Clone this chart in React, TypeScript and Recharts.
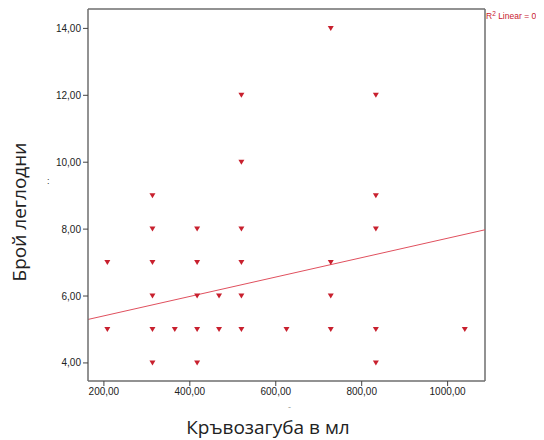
import React from "react";
import {
  ScatterChart,
  Scatter,
  XAxis,
  YAxis,
  ReferenceLine,
} from "recharts";

// x values (the points sit slightly right of the round ticks)
const bloodLoss = [208, 208, 313, 313, 313, 313, 313, 313, 365, 417, 417, 417, 417, 417, 468, 468, 520, 520, 520, 520, 520, 520, 625, 728, 728, 728, 728, 833, 833, 833, 833, 833, 1040];
const bedDays = [7, 5, 9, 8, 7, 6, 5, 4, 5, 8, 7, 6, 5, 4, 6, 5, 12, 10, 8, 7, 6, 5, 5, 14, 7, 6, 5, 12, 9, 8, 5, 4, 5];

const xTicks = [200, 400, 600, 800, 1000];
const yTicks = [4, 6, 8, 10, 12, 14];
const xDomain = [163, 1087];
const yDomain = [3.46, 14.58];
const fitX = [163, 1087];
const fitY = [5.3, 7.98];

const xTitle = "Кръвозагуба в мл";
const yTitle = "Брой леглодни";
const r2Label = "Linear = 0,";

const points = bloodLoss.map((x, i) => ({ x, y: bedDays[i] }));

const fmt = (v: number) => v.toFixed(2).replace(".", ",");

const RED = "#c8202e";
const FRAME = "#6e6e6e";

const Marker = (props: any) => {
  const { cx, cy } = props;
  if (cx == null || cy == null) return null;
  return (
    <path
      d={`M${cx - 3},${cy - 2.5} L${cx + 3},${cy - 2.5} L${cx},${cy + 2.5} Z`}
      fill={RED}
    />
  );
};

export default function App() {
  return (
    <div style={{ position: "relative", width: 536, height: 432 }}>
      <ScatterChart
        width={536}
        height={432}
        margin={{ top: 1, right: 59, bottom: 0, left: 0 }}
      >
        <XAxis
          type="number"
          dataKey="x"
          domain={xDomain}
          ticks={xTicks}
          allowDataOverflow
          tickFormatter={fmt}
          height={59}
          stroke={FRAME}
          strokeWidth={1.5}
          tickSize={5}
          tickLine={{ stroke: "#444", strokeWidth: 1 }}
          tick={{ fill: "#222", fontSize: 10, fontFamily: "Liberation Sans, Arial, sans-serif" }}
        />
        <YAxis
          type="number"
          dataKey="y"
          domain={yDomain}
          ticks={yTicks}
          allowDataOverflow
          tickFormatter={fmt}
          width={80}
          stroke={FRAME}
          strokeWidth={1.5}
          tickSize={5}
          tickLine={{ stroke: "#444", strokeWidth: 1 }}
          tick={{ fill: "#222", fontSize: 10, fontFamily: "Liberation Sans, Arial, sans-serif" }}
        />
        <ReferenceLine y={yDomain[1]} stroke={FRAME} strokeWidth={1.5} ifOverflow="visible" />
        <ReferenceLine x={xDomain[1]} stroke={FRAME} strokeWidth={1.5} ifOverflow="visible" />
        <ReferenceLine
          segment={[
            { x: fitX[0], y: fitY[0] },
            { x: fitX[1], y: fitY[1] },
          ]}
          stroke="#e0505e"
          strokeWidth={1}
          ifOverflow="visible"
        />
        <Scatter data={points} shape={Marker} isAnimationActive={false} />
      </ScatterChart>
      <svg
        width={536}
        height={432}
        style={{ position: "absolute", left: 0, top: 0, pointerEvents: "none", overflow: "visible" }}
      >
        <text
          x={11}
          y={204}
          transform="rotate(-90 11 204)"
          textAnchor="middle"
          dominantBaseline="central"
          fontSize={19}
          fontFamily="Open Sans, sans-serif"
          fill="#222"
        >
          {yTitle}
        </text>
        <text
          x={260}
          y={419}
          textAnchor="middle"
          dominantBaseline="central"
          fontSize={19}
          fontFamily="Open Sans, sans-serif"
          fill="#222"
        >
          {xTitle}
        </text>
        <text x={39} y={176} fontSize={9} fill="#333" fontFamily="Liberation Sans, sans-serif">:</text>
        <text x={280} y={402} fontSize={9} fill="#999" fontFamily="Liberation Sans, sans-serif">-</text>
        <text x={478} y={11} fontSize={8.5} fill={RED} fontFamily="Liberation Sans, Arial, sans-serif">
          R<tspan dy={-3} fontSize={6.5}>2</tspan>
          <tspan dy={3}> {r2Label}</tspan>
        </text>
      </svg>
    </div>
  );
}
